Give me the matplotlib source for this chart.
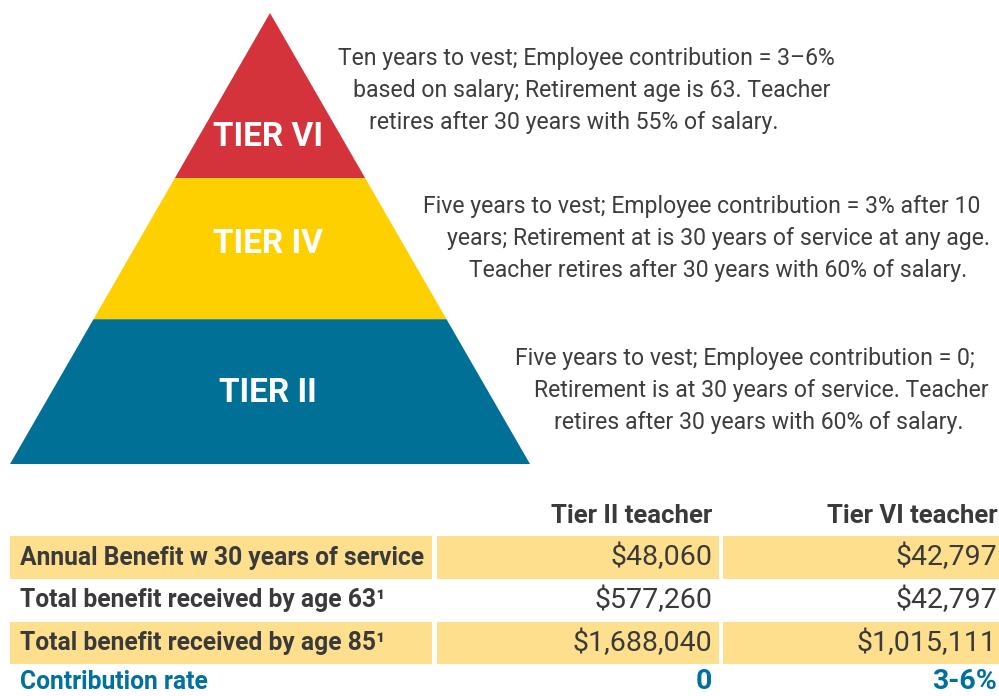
import matplotlib
matplotlib.use("Agg")
import matplotlib.pyplot as plt
from matplotlib.patches import Polygon, Rectangle

plt.rcParams["font.family"] = ["Roboto", "DejaVu Sans"]

# pyramid tiers, top to bottom
tiers = ["TIER VI", "TIER IV", "TIER II"]
tier_colors = ["#D5333B", "#FFD000", "#007096"]
band_edges = [0.0, 0.366, 0.679, 1.0]  # fraction of pyramid height

tier_notes = [
    ["Ten years to vest; Employee contribution = 3\u20136%",
     "based on salary; Retirement age is 63. Teacher",
     "retires after 30 years with 55% of salary."],
    ["Five years to vest; Employee contribution = 3% after 10",
     "years; Retirement at is 30 years of service at any age.",
     "Teacher retires after 30 years with 60% of salary."],
    ["Five years to vest; Employee contribution = 0;",
     "Retirement is at 30 years of service. Teacher",
     "retires after 30 years with 60% of salary."],
]
note_x = [[338, 353, 369], [423, 447, 469], [515, 534, 554]]
note_y = [[59, 90, 122], [207, 238, 270], [359, 391, 422]]

# comparison table
col_headers = ["Tier II teacher", "Tier VI teacher"]
row_labels = ["Annual Benefit w 30 years of service",
              "Total benefit received by age 63\u00b9",
              "Total benefit received by age 85\u00b9",
              "Contribution rate"]
tier2_vals = ["$48,060", "$577,260", "$1,688,040", "0"]
tier6_vals = ["$42,797", "$42,797", "$1,015,111", "3-6%"]

fig = plt.figure(figsize=(9.99, 6.96), dpi=100)
ax = fig.add_axes([0, 0, 1, 1])
ax.set_xlim(0, 999)
ax.set_ylim(696, 0)
ax.axis("off")

# pyramid geometry (pixels)
apex_x, apex_y, base_y, half_w = 270, 13, 464, 260
H = base_y - apex_y
for i, name in enumerate(tiers):
    f0, f1 = band_edges[i], band_edges[i + 1]
    y0, y1 = apex_y + f0 * H, apex_y + f1 * H
    w0, w1 = half_w * f0, half_w * f1
    poly = Polygon([(apex_x - w0, y0), (apex_x + w0, y0),
                    (apex_x + w1, y1), (apex_x - w1, y1)],
                   closed=True, facecolor=tier_colors[i], edgecolor="none")
    ax.add_patch(poly)
    ty = [137, 244, 393][i]
    ax.text(apex_x - 2, ty, name, color="white", fontsize=24, fontweight="bold",
            ha="center", va="center")
    for line, lx, ly in zip(tier_notes[i], note_x[i], note_y[i]):
        ax.text(lx, ly, line, color="#3d3d3d", fontsize=16.6,
                ha="left", va="center")

# table
text_dark = "#3a3a3a"
blue = "#0070A0"
hl = "#FDDF8E"
col_left = [10, 437, 723]
col_right = [432, 719, 999]
row_y = [[536, 579], [580, 621], [622, 664], [666, 708]]
shade = [True, False, True, False]

for j, h in enumerate(col_headers):
    ax.text([712, 998][j], 516, h, color=text_dark, fontsize=18.5,
            fontweight="bold", ha="right", va="center")

for r, lab in enumerate(row_labels):
    y0, y1 = row_y[r]
    yc = (y0 + y1) / 2
    if shade[r]:
        for c in range(3):
            ax.add_patch(Rectangle((col_left[c], y0), col_right[c] - col_left[c],
                                   y1 - y0, facecolor=hl, edgecolor="none"))
    last = r == len(row_labels) - 1
    color = blue if last else text_dark
    # last row sits on the bottom edge: anchor on baseline so it stays inside
    ty, va = (689, "baseline") if last else (yc, "center")
    ax.text(20, ty, lab, color=color, fontsize=17.7, fontweight="bold",
            ha="left", va=va)
    ax.text(712, ty, tier2_vals[r], color=color, fontsize=20.5,
            fontweight="bold" if last else "normal", ha="right", va=va)
    ax.text(997, ty, tier6_vals[r], color=color, fontsize=20.5,
            fontweight="bold" if last else "normal", ha="right", va=va)

fig.savefig("out.png", dpi=100)
